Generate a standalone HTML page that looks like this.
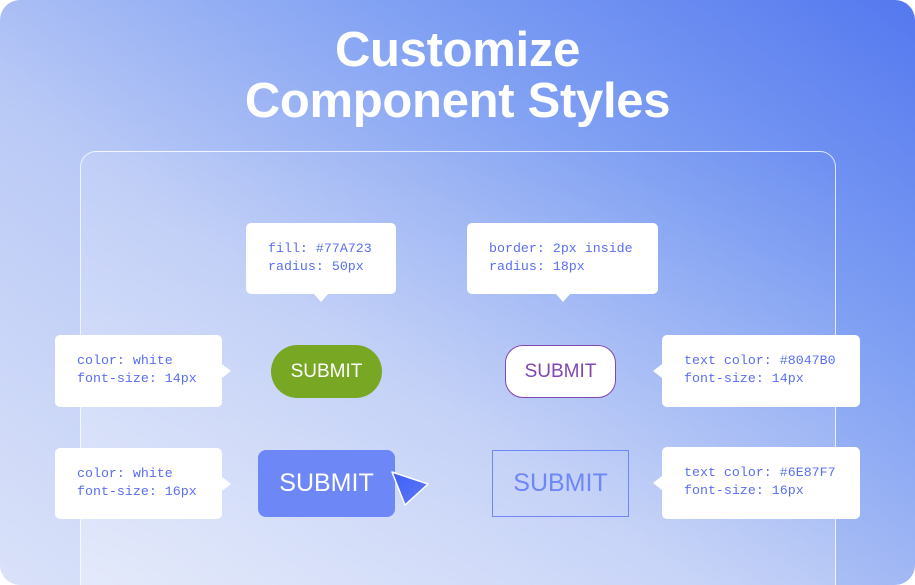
<!DOCTYPE html>
<html><head><meta charset="utf-8"><style>
*{margin:0;padding:0;box-sizing:border-box}
body{width:915px;height:585px;overflow:hidden;background:#fff}
#bg{position:absolute;left:0;top:0;width:915px;height:585px;border-radius:20px;overflow:hidden;
background:linear-gradient(215deg,#5478ef 0%,#80a0f3 30%,#b9c9f6 60%,#dae2f9 100%);}
.t{position:absolute;left:0;width:915px;text-align:center;color:#fff;font:bold 49px "Liberation Sans",sans-serif;letter-spacing:-0.3px}
#panel{position:absolute;left:80px;top:151px;width:756px;height:460px;border:1px solid rgba(255,255,255,.75);border-radius:16px;
background:linear-gradient(200deg,rgba(255,255,255,0) 0%,rgba(255,255,255,.15) 50%,rgba(255,255,255,.35) 100%)}
.box{position:absolute;background:#fff;border-radius:5px;font:13.3px/18px "Liberation Mono",monospace;color:#5a6ef2;padding:17px 0 0 22px;white-space:pre}
.tb:after{content:"";position:absolute;left:50%;bottom:-8px;margin-left:-7px;border-left:7px solid transparent;border-right:7px solid transparent;border-top:8px solid #fff}
.tr:after{content:"";position:absolute;top:50%;right:-9px;margin-top:-7px;border-top:7px solid transparent;border-bottom:7px solid transparent;border-left:9px solid #fff}
.tl:after{content:"";position:absolute;top:50%;left:-9px;margin-top:-7px;border-top:7px solid transparent;border-bottom:7px solid transparent;border-right:9px solid #fff}
.btn{position:absolute;display:flex;align-items:center;justify-content:center;font-family:"Liberation Sans",sans-serif}
</style></head><body>
<div id="bg">
<div class="t" style="top:22px">Customize</div>
<div class="t" style="top:73px">Component Styles</div>
<div id="panel"></div>

<div class="box tb" style="left:246px;top:223px;width:150px;height:71px">fill: #77A723
radius: 50px</div>
<div class="box tb" style="left:467px;top:223px;width:191px;height:71px">border: 2px inside
radius: 18px</div>
<div class="box tr" style="left:55px;top:335px;width:167px;height:72px">color: white
font-size: 14px</div>
<div class="box tr" style="left:55px;top:448px;width:167px;height:71px">color: white
font-size: 16px</div>
<div class="box tl" style="left:662px;top:335px;width:198px;height:72px">text color: #8047B0
font-size: 14px</div>
<div class="box tl" style="left:662px;top:447px;width:198px;height:72px">text color: #6E87F7
font-size: 16px</div>

<div class="btn" style="left:271px;top:345px;width:111px;height:53px;border-radius:27px;background:#77a723;color:#fff;font-size:19px">SUBMIT</div>
<div class="btn" style="left:505px;top:345px;width:111px;height:53px;border-radius:18px;background:#fff;border:1px solid #8047b0;color:#8047b0;font-size:19px">SUBMIT</div>
<div class="btn" style="left:258px;top:450px;width:137px;height:67px;border-radius:8px;background:#6e87f7;color:#fff;font-size:25px">SUBMIT</div>
<div class="btn" style="left:492px;top:450px;width:137px;height:67px;border:1px solid #6e87f7;color:#6e87f7;font-size:25px">SUBMIT</div>

<svg style="position:absolute;left:0;top:0" width="915" height="585">
<defs><linearGradient id="cg" x1="0" y1="0" x2="1" y2="1"><stop offset="0" stop-color="#3d5ef5"/><stop offset="1" stop-color="#5f7bf7"/></linearGradient></defs>
<polygon points="392,472 428,484 405,505" fill="url(#cg)" stroke="#fff" stroke-width="1.5" stroke-linejoin="round"/>
</svg>
</div>
</body></html>
